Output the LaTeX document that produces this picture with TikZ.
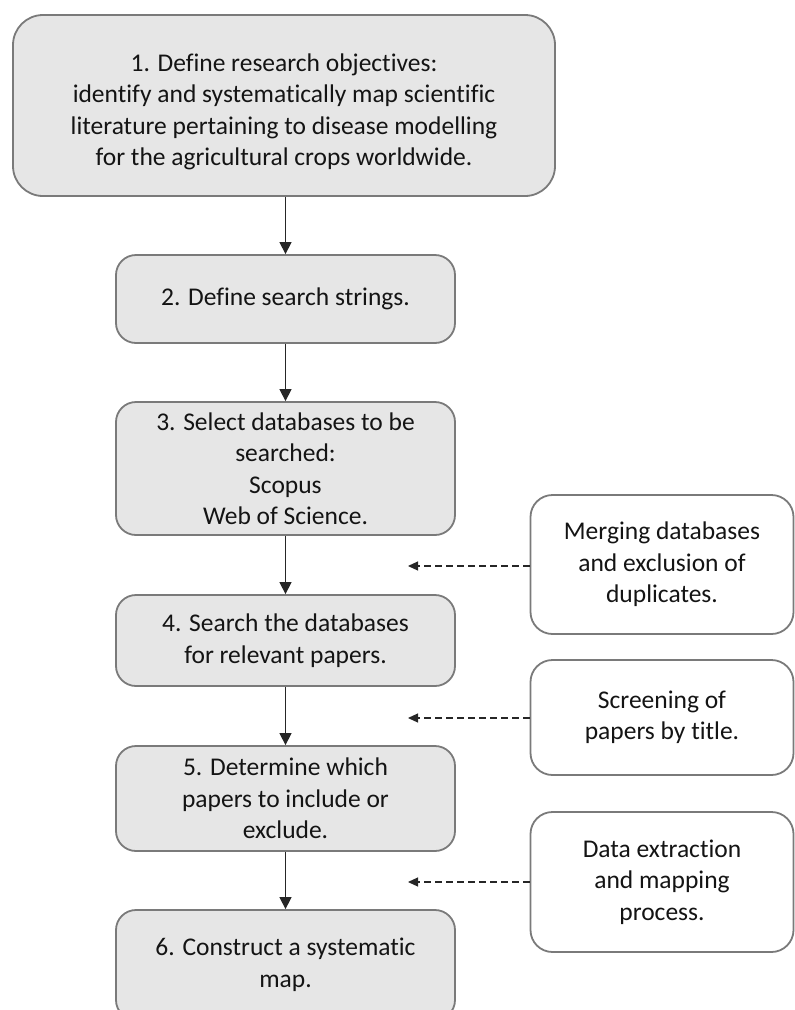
\documentclass[tikz,border=0pt]{standalone}
\usepackage{fontspec}
\setmainfont{Carlito}[Ligatures=NoCommon]
\usetikzlibrary{arrows.meta}
\definecolor{boxfill}{HTML}{E6E6E6}
\definecolor{boxline}{HTML}{7A7A7A}
\definecolor{txt}{HTML}{141414}
\tikzset{
  x=1pt,y=1pt,
  mainbox/.style={draw=boxline, line width=1.8pt, fill=boxfill, rounded corners=20pt,
    minimum width=339pt, inner sep=0pt, align=center, text=txt,
    font=\fontsize{25.5}{31.5}\selectfont},
  sidebox/.style={draw=boxline, line width=1.8pt, fill=white, rounded corners=22pt,
    minimum width=263pt, inner sep=0pt, align=center, text=txt,
    font=\fontsize{25.5}{31.5}\selectfont},
  arr/.style={draw=black!85, line width=1.3pt, -{Triangle[width=12pt,length=12pt]}},
  darr/.style={draw=black!85, line width=1.1pt, dash pattern=on 7pt off 4pt,
    -{Triangle[width=9pt,length=10pt]}},
}
\begin{document}
\begin{tikzpicture}
\clip (0,0) rectangle (795,-1010);
\node[mainbox, minimum width=542pt, minimum height=181pt, rounded corners=30pt] (b1) at (284,-105.5)
  {\rule{0pt}{30pt}1. Define research objectives:\\identify and systematically map scientific\\literature pertaining to disease modelling\\for the agricultural crops worldwide.};
\node[mainbox, minimum height=88pt] (b2) at (285.5,-299) {2. Define search strings.};
\node[mainbox, minimum height=133pt] (b3) at (285.5,-468.5) {3. Select databases to be\\searched:\\Scopus\\Web of Science.};
\node[mainbox, minimum height=91pt] (b4) at (285.5,-640.5) {4. Search the databases\\for relevant papers.};
\node[mainbox, minimum height=105pt] (b5) at (285.5,-798.5) {5. Determine which\\papers to include or\\exclude.};
\node[mainbox, minimum height=110pt] (b6) at (285.5,-965) {6. Construct a systematic\\map.};
\node[sidebox, minimum height=139pt] (sA) at (662,-564.5) {Merging databases\\and exclusion of\\duplicates.};
\node[sidebox, minimum height=115pt] (sB) at (662,-717.5) {Screening of\\papers by title.};
\node[sidebox, minimum height=140pt] (sC) at (662,-882) {Data extraction\\and mapping\\process.};
\draw[arr] (b1.south -| b2.north) -- (b2.north);
\draw[arr] (b2.south) -- (b3.north);
\draw[arr] (b3.south) -- (b4.north);
\draw[arr] (b4.south) -- (b5.north);
\draw[arr] (b5.south) -- (b6.north);
\coordinate (tA) at (408,-566);
\coordinate (tB) at (408,-718);
\coordinate (tC) at (408,-882);
\draw[darr] (sA.west |- tA) -- (tA);
\draw[darr] (sB.west |- tB) -- (tB);
\draw[darr] (sC.west |- tC) -- (tC);
\end{tikzpicture}
\end{document}
